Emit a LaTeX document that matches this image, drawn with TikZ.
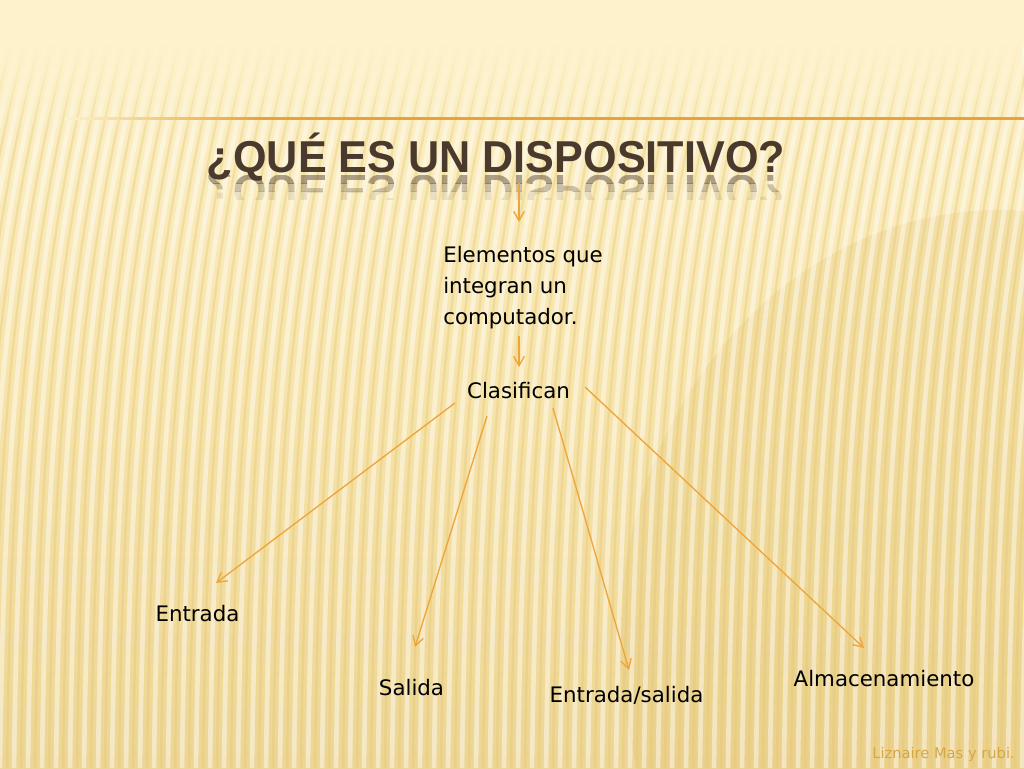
\documentclass[tikz,border=0pt]{standalone}
\usepackage{graphicx}
\usepackage{fontspec}
\setmainfont{DejaVu Sans}
\newfontfamily\titlefont{Liberation Sans}
\usetikzlibrary{arrows.meta,fadings}
\definecolor{bgtop}{HTML}{FDF2CB}
\definecolor{bgmid}{HTML}{F7E4AB}
\definecolor{bgbot}{HTML}{EDD593}
\definecolor{lineor}{HTML}{E8A43A}
\definecolor{arrowor}{HTML}{EEA53A}
\definecolor{titlecol}{HTML}{4A3A2E}
\definecolor{footcol}{HTML}{D6A748}
\definecolor{disc}{HTML}{E3C572}
\tikzfading[name=topfade, top color=transparent!0, bottom color=transparent!100]
\newcommand{\titletext}{\resizebox{433.5pt}{\height}{¿QUÉ ES UN DISPOSITIVO?}}
\begin{document}
\begin{tikzpicture}[x=0.75pt,y=-0.75pt,
  body/.style={inner sep=0pt, font=\fontsize{16}{23.25}\selectfont, text=black},
  titlestyle/.style={inner sep=0pt, text=titlecol, font=\titlefont\bfseries\fontsize{33.5}{40}\selectfont},
  conn/.style={draw=arrowor, line width=1pt, -{Straight Barb[length=7pt,width=8pt]}},
  lightstripe/.style={white, opacity=0.45, line width=3.5pt},
  darkstripe/.style={disc, opacity=0.35, line width=1.8pt}
]
\useasboundingbox (0,0) rectangle (1024,768);
% background
\shade[top color=bgtop, bottom color=bgbot, middle color=bgmid] (0,0) rectangle (1024,768);
\fill[disc, opacity=0.25] (1000,640) ellipse [x radius=380, y radius=430];
\begin{scope}
\clip (0,0) rectangle (1024,768);
\foreach \i in {-8,...,74} {
  \draw[lightstripe] (\i*14, 768) .. controls (\i*14+4, 450) and (\i*14+20, 250) .. (\i*14+75, 40);
  \draw[darkstripe] (\i*14+7, 768) .. controls (\i*14+11, 450) and (\i*14+27, 250) .. (\i*14+82, 40);
}
\end{scope}
\fill[bgtop] (0,0) rectangle (1024,45);
\fill[bgtop, path fading=topfade] (0,44) rectangle (1024,140);
% rule line
\shade[left color=bgtop, right color=lineor] (65,117) rectangle (260,119.5);
\fill[lineor] (259.5,117) rectangle (1024,119.5);
% title and its reflection
\node[titlestyle, anchor=base] (title) at (496,172) {\titletext};
\begin{scope}
\clip (150,175) rectangle (850,183);
\node[titlestyle, anchor=base, opacity=0.45] (refla) at (496,175) {\scalebox{1}[-1]{\titletext}};
\end{scope}
\begin{scope}
\clip (150,183) rectangle (850,191);
\node[titlestyle, anchor=base, opacity=0.27] (reflb) at (496,175) {\scalebox{1}[-1]{\titletext}};
\end{scope}
\begin{scope}
\clip (150,191) rectangle (850,199);
\node[titlestyle, anchor=base, opacity=0.11] (reflc) at (496,175) {\scalebox{1}[-1]{\titletext}};
\end{scope}
% nodes
\node[body, anchor=north west, align=left] (elem) at (443,246) {Elementos que\\integran un\\computador.};
\node[body, anchor=base] (clas) at (518.5,398) {Clasifican};
\node[body, anchor=base] (entr) at (197.5,621) {Entrada};
\node[body, anchor=base] (sal) at (411.5,695) {Salida};
\node[body, anchor=base] (es) at (626.5,702) {Entrada/salida};
\node[body, anchor=base] (alm) at (884,686) {Almacenamiento};
\node[anchor=base east, inner sep=0pt, text=footcol, font=\fontsize{11}{13}\selectfont] (foot) at (1015,758) {Liznaire Mas y rubi.};
% connectors
\draw[conn] ([shift={(23,11)}]title.base) -- ([shift={(76,-24)}]elem.north west);
\draw[conn] ([shift={(76,90)}]elem.north west) -- ([shift={(0.5,-31)}]clas.base);
\draw[conn] ([shift={(-63.5,5)}]clas.base) -- ([shift={(18.5,-38)}]entr.base);
\draw[conn] ([shift={(-31.5,18)}]clas.base) -- ([shift={(3.5,-48)}]sal.base);
\draw[conn] ([shift={(34.5,10)}]clas.base) -- ([shift={(2.5,-32)}]es.base);
\draw[conn] ([shift={(66.5,-11)}]clas.base) -- ([shift={(-20,-38)}]alm.base);
\end{tikzpicture}
\end{document}
